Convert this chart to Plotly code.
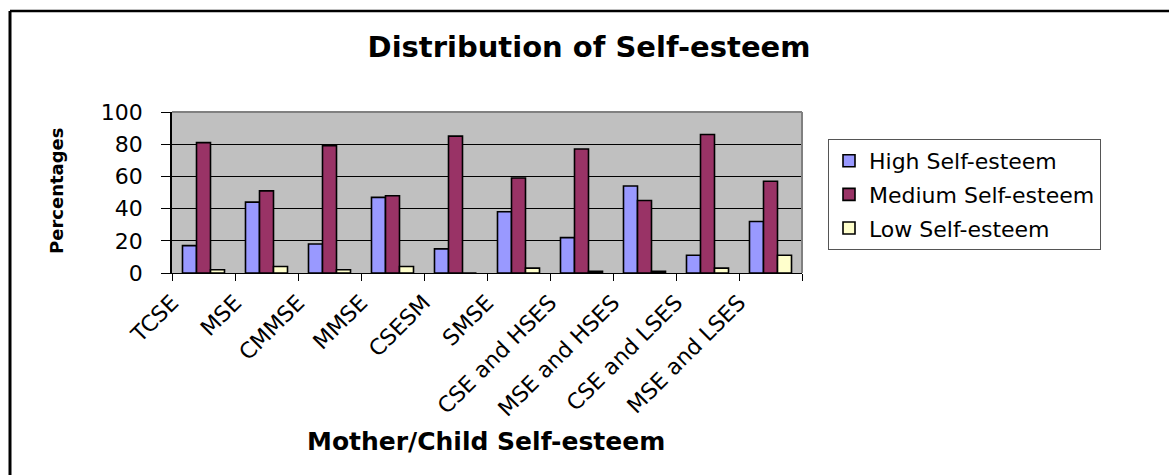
import plotly.graph_objects as go

categories = ["TCSE", "MSE", "CMMSE", "MMSE", "CSESM", "SMSE",
              "CSE and HSES", "MSE and HSES", "CSE and LSES", "MSE and LSES"]
high = [17, 44, 18, 47, 15, 38, 22, 54, 11, 32]
medium = [81, 51, 79, 48, 85, 59, 77, 45, 86, 57]
low = [2, 4, 2, 4, 0, 3, 1, 1, 3, 11]
series_names = ["High Self-esteem", "Medium Self-esteem", "Low Self-esteem"]
colors = ["#9999FF", "#993366", "#FFFFCC"]
y_ticks = [0, 20, 40, 60, 80, 100]

W, H = 1169, 475
L, R, T, B = 172, 1169 - 802, 112, 475 - 273
pw, ph = W - L - R, H - T - B


def px_x(p):
    return (p - L) / pw


def px_y(p):
    return (H - B - p) / ph


fig = go.Figure()
for name, vals, col in zip(series_names, [high, medium, low], colors):
    fig.add_trace(go.Bar(
        x=categories, y=vals, name=name, legendgroup=name,
        marker=dict(color=col, line=dict(color="black", width=1.6)),
    ))

FONT = "DejaVu Sans"

# tick labels sit on category boundaries, as in the original
tickvals = [i - 0.5 for i in range(len(categories) + 1)]
ticktext = categories + [""]

fig.update_layout(
    width=W, height=H,
    margin=dict(l=L, r=R, t=T, b=B, autoexpand=False),
    paper_bgcolor="white",
    plot_bgcolor="#C0C0C0",
    barmode="group",
    bargap=0.333,
    bargroupgap=0,
    font=dict(family=FONT, color="black"),
    title=dict(
        text="<b>Distribution of Self-esteem</b>",
        font=dict(family=FONT, size=29, color="black"),
        xref="container", x=589 / W, xanchor="center",
        yref="container", y=1 - 47 / H, yanchor="middle",
    ),
    showlegend=True,
    legend=dict(
        x=px_x(828), xanchor="left",
        y=px_y(139), yanchor="top",
        bgcolor="white",
        bordercolor="#555555", borderwidth=1,
        font=dict(family=FONT, size=22, color="black"),
        traceorder="grouped", tracegroupgap=2,
    ),
    xaxis=dict(
        type="category",
        range=[-0.5, len(categories) - 0.5],
        tickmode="array", tickvals=tickvals, ticktext=ticktext,
        tickangle=-45,
        ticks="outside", ticklen=7, tickcolor="black", tickwidth=1,
        tickfont=dict(family=FONT, size=22, color="black"),
        showline=True, linecolor="black", linewidth=1,
        showgrid=False, zeroline=False,
    ),
    yaxis=dict(
        range=[0, 100],
        tickmode="array", tickvals=y_ticks,
        ticks="outside", ticklen=9, tickcolor="black", tickwidth=1,
        ticklabelstandoff=14,
        tickfont=dict(family=FONT, size=22, color="black"),
        showline=True, linecolor="black", linewidth=1.5,
        showgrid=True, gridcolor="black", gridwidth=1,
        zeroline=False,
    ),
    annotations=[
        dict(text="<b>Percentages</b>", textangle=-90,
             xref="paper", yref="paper", x=px_x(56), y=px_y(190),
             xanchor="center", yanchor="middle", showarrow=False,
             font=dict(family=FONT, size=18, color="black")),
        dict(text="<b>Mother/Child Self-esteem</b>",
             xref="paper", yref="paper", x=px_x(486), y=px_y(441),
             xanchor="center", yanchor="middle", showarrow=False,
             font=dict(family=FONT, size=25, color="black")),
    ],
    shapes=[
        # gray frame of the plot area (top and right)
        dict(type="line", xref="paper", yref="paper", x0=0, x1=1, y0=1, y1=1,
             line=dict(color="#808080", width=2), layer="above"),
        dict(type="line", xref="paper", yref="paper", x0=1, x1=1, y0=0, y1=1,
             line=dict(color="#808080", width=2), layer="above"),
        # outer chart border (left and top visible)
        dict(type="line", xref="paper", yref="paper",
             x0=px_x(10), x1=px_x(1180), y0=px_y(11), y1=px_y(11),
             line=dict(color="black", width=2.5)),
        dict(type="line", xref="paper", yref="paper",
             x0=px_x(10), x1=px_x(10), y0=px_y(11), y1=px_y(490),
             line=dict(color="black", width=3)),
    ],
)

fig.write_html("out.html")
